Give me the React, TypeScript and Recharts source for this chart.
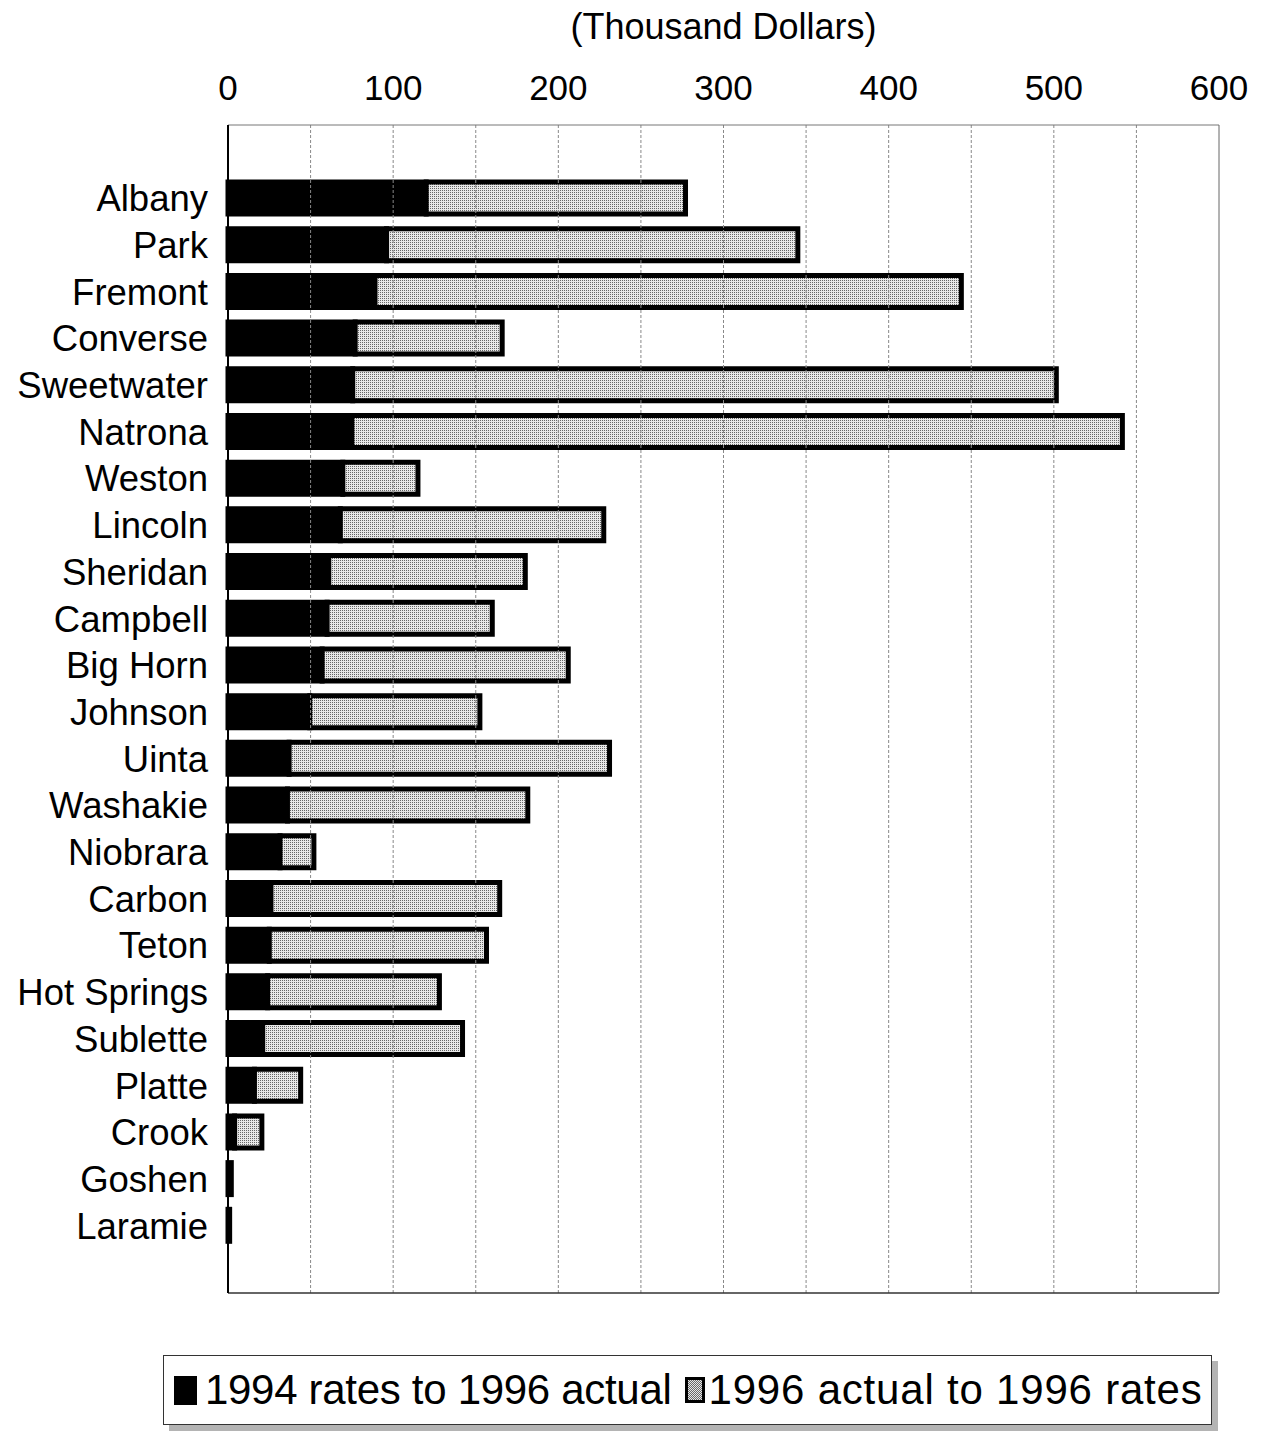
import {
  BarChart, Bar, XAxis, YAxis, ReferenceLine, Legend,
} from "recharts"

const COUNTIES = [
  "Albany", "Park", "Fremont", "Converse", "Sweetwater", "Natrona", "Weston", "Lincoln",
  "Sheridan", "Campbell", "Big Horn", "Johnson", "Uinta", "Washakie", "Niobrara", "Carbon",
  "Teton", "Hot Springs", "Sublette", "Platte", "Crook", "Goshen", "Laramie",
]
// 1994 rates to 1996 actual
const RATES_94 = [120, 96, 89, 77, 75.5, 75, 69.5, 68, 61, 60, 57, 49.5, 37, 36, 31.5, 26, 25, 24, 21, 16, 4, 2, 1]
// 1996 actual to 1996 rates (stacked on top)
const ACTUAL_96 = [157, 249, 355, 89, 426, 466.5, 45.5, 159.5, 119, 100, 149, 103, 194, 145.5, 20.5, 138.5, 131.5, 104, 121, 28, 16.5, 0, 0]

const X_TICKS = [0, 100, 200, 300, 400, 500, 600]
const GRID_X = [50, 100, 150, 200, 250, 300, 350, 400, 450, 500, 550]

const LEGEND_ITEMS = ["1994 rates to 1996 actual", "1996 actual to 1996 rates"]

const data = COUNTIES.map((name, i) => ({ name, rate94: RATES_94[i], actual96: ACTUAL_96[i] }))

const FONT = "'Liberation Sans', Arial, sans-serif"
const dotted = "repeating-conic-gradient(#6a6a6a 0 25%, #e8e8e8 0 50%) 0 0 / 2px 2px"

function renderLegend() {
  return (
    <div style={{
      boxSizing: "border-box", width: 1049, height: 70, border: "1px solid #333",
      boxShadow: "6px 6px 0 #b4b4b4", background: "#fff", display: "flex",
      alignItems: "center", fontFamily: FONT, fontSize: 42, color: "#000", whiteSpace: "nowrap",
    }}>
      <span style={{ display: "inline-block", width: 23, height: 29, background: "#000", marginLeft: 10, marginRight: 8 }} />
      <span style={{ letterSpacing: -0.3 }}>{LEGEND_ITEMS[0]}</span>
      <span style={{
        display: "inline-block", boxSizing: "border-box", width: 20, height: 26,
        border: "3px solid #000", background: dotted, marginLeft: 13, marginRight: 4,
      }} />
      <span style={{ letterSpacing: 0.8 }}>{LEGEND_ITEMS[1]}</span>
    </div>
  )
}

export default function App() {
  return (
    <div style={{ position: "absolute", left: 0, top: 0, width: 1271, height: 1435, background: "#fff", fontFamily: FONT }}>
      <BarChart
        width={1271}
        height={1435}
        layout="vertical"
        data={data}
        margin={{ top: 0, right: 51, left: 0, bottom: 141 }}
      >
        <defs>
          <pattern id="dots" width="2" height="2" patternUnits="userSpaceOnUse">
            <rect width="2" height="2" fill="#e8e8e8" />
            <rect width="1" height="1" fill="#666" />
          </pattern>
        </defs>
        <XAxis
          type="number"
          orientation="top"
          domain={[0, 600]}
          ticks={X_TICKS}
          interval={0}
          height={125}
          tickLine={false}
          tickSize={0}
          tickMargin={25}
          axisLine={{ stroke: "#777" }}
          tick={{ fontSize: 35, fill: "#000", fontFamily: FONT }}
          label={{ value: "(Thousand Dollars)", position: "insideTop", offset: 13, fontSize: 36, fill: "#000", fontFamily: FONT }}
        />
        <XAxis
          xAxisId="frame"
          type="number"
          orientation="bottom"
          domain={[0, 600]}
          height={1}
          tick={false}
          tickLine={false}
          axisLine={{ stroke: "#333", strokeWidth: 1.5 }}
        />
        <YAxis
          type="category"
          dataKey="name"
          width={228}
          interval={0}
          tickLine={false}
          tickSize={0}
          tickMargin={20}
          axisLine={{ stroke: "#000", strokeWidth: 2 }}
          padding={{ top: 50, bottom: 44 }}
          tick={{ fontSize: 36.5, fill: "#000", fontFamily: FONT }}
        />
        <YAxis
          yAxisId="frame"
          type="category"
          dataKey="name"
          orientation="right"
          width={1}
          tick={false}
          tickLine={false}
          axisLine={{ stroke: "#666" }}
        />
        {GRID_X.map((v) => (
          <ReferenceLine key={v} x={v} stroke="#888" strokeDasharray="3 2" />
        ))}
        <Bar dataKey="rate94" stackId="a" fill="#000" stroke="#000" strokeWidth={5} barSize={32} isAnimationActive={false} />
        <Bar dataKey="actual96" stackId="a" fill="url(#dots)" stroke="#000" strokeWidth={5} barSize={32} isAnimationActive={false} />
        <Legend
          layout="horizontal"
          verticalAlign="middle"
          align="center"
          wrapperStyle={{ left: 163, top: 1355, width: 1049, height: 70 }}
          content={renderLegend}
        />
      </BarChart>
    </div>
  )
}
